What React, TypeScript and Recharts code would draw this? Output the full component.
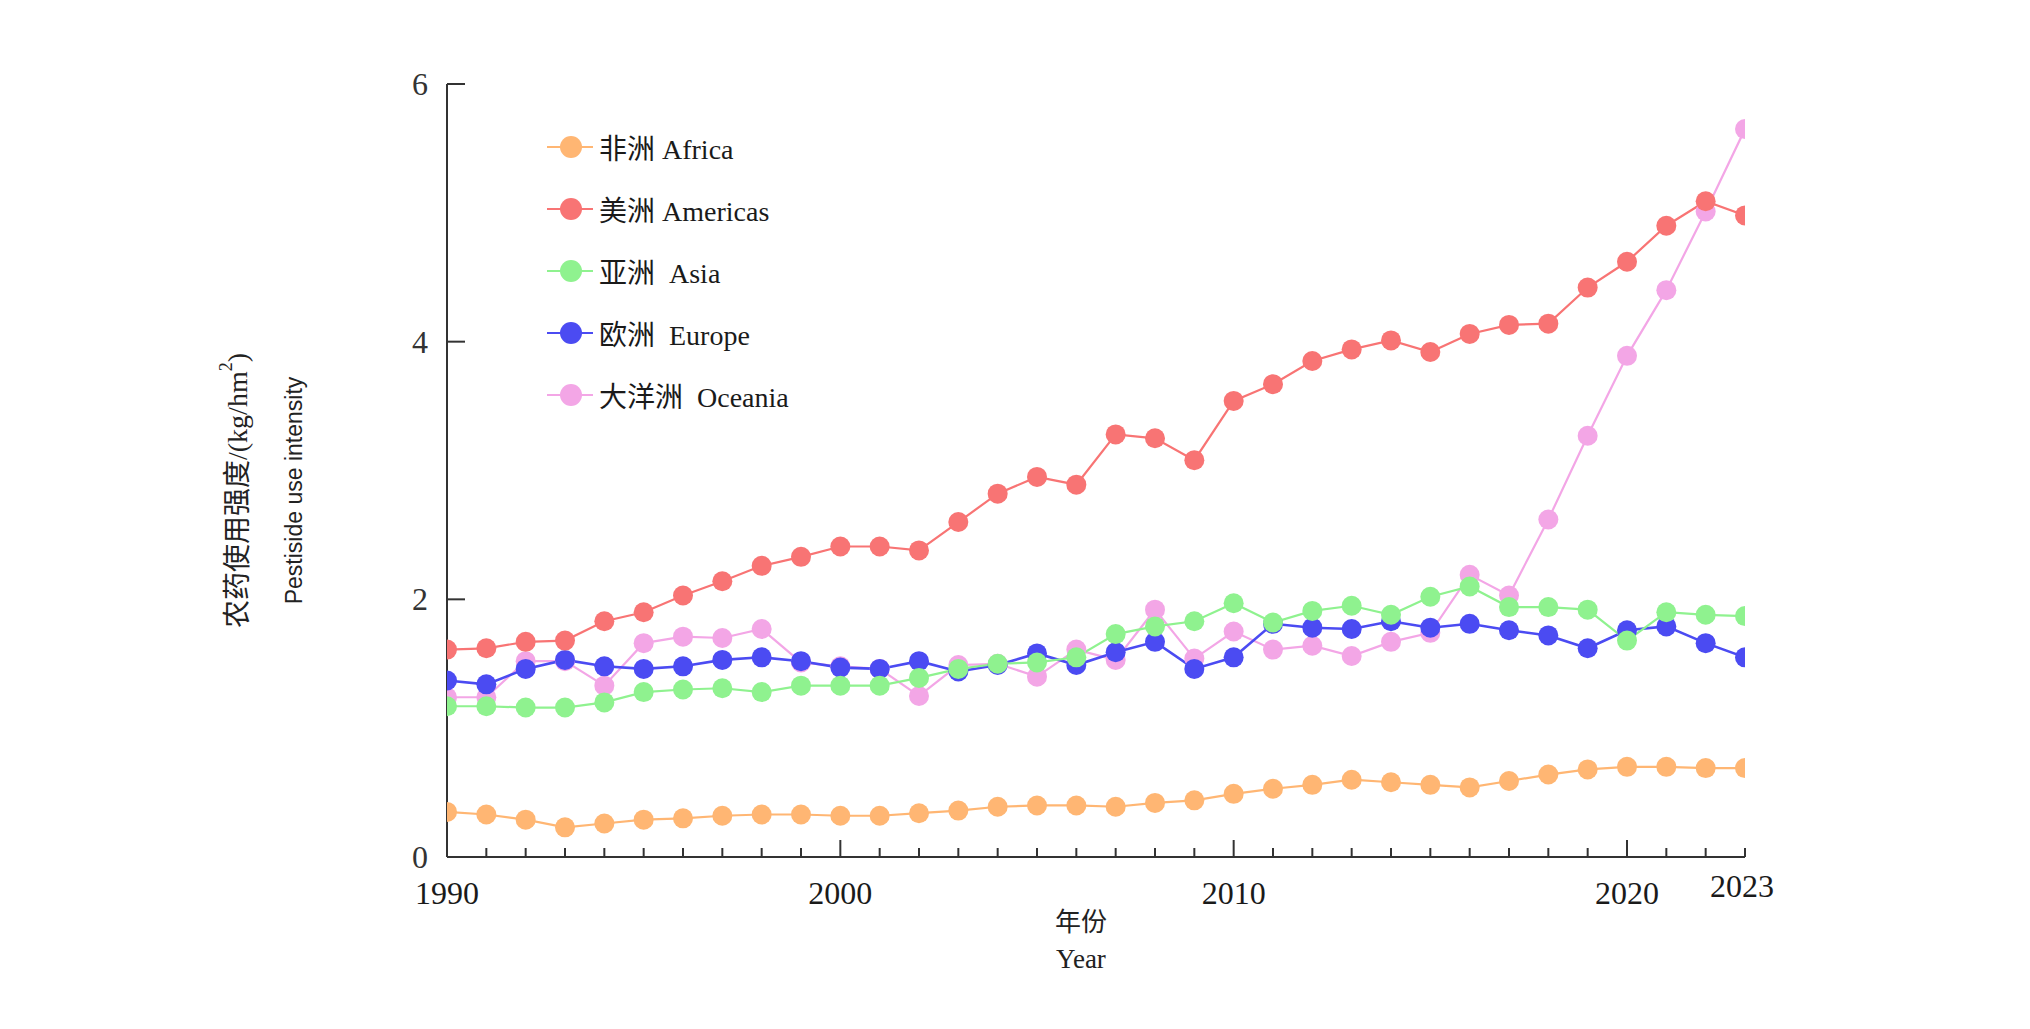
import React from 'react';
import { LineChart, Line, XAxis, YAxis, Legend } from 'recharts';

const years = [
  1990, 1991, 1992, 1993, 1994, 1995, 1996, 1997, 1998, 1999,
  2000, 2001, 2002, 2003, 2004, 2005, 2006, 2007, 2008, 2009,
  2010, 2011, 2012, 2013, 2014, 2015, 2016, 2017, 2018, 2019,
  2020, 2021, 2022, 2023,
];

const africa = [
  0.35, 0.33, 0.29, 0.23, 0.26, 0.29, 0.30, 0.32, 0.33, 0.33,
  0.32, 0.32, 0.34, 0.36, 0.39, 0.40, 0.40, 0.39, 0.42, 0.44,
  0.49, 0.53, 0.56, 0.60, 0.58, 0.56, 0.54, 0.59, 0.64, 0.68,
  0.70, 0.70, 0.69, 0.69,
];

const americas = [
  1.61, 1.62, 1.67, 1.68, 1.83, 1.90, 2.03, 2.14, 2.26, 2.33,
  2.41, 2.41, 2.38, 2.60, 2.82, 2.95, 2.89, 3.28, 3.25, 3.08,
  3.54, 3.67, 3.85, 3.94, 4.01, 3.92, 4.06, 4.13, 4.14, 4.42,
  4.62, 4.90, 5.09, 4.98,
];

const asia = [
  1.17, 1.17, 1.16, 1.16, 1.20, 1.28, 1.30, 1.31, 1.28, 1.33,
  1.33, 1.33, 1.39, 1.46, 1.50, 1.51, 1.55, 1.73, 1.79, 1.83,
  1.97, 1.82, 1.91, 1.95, 1.88, 2.02, 2.10, 1.94, 1.94, 1.92,
  1.68, 1.90, 1.88, 1.87,
];

const europe = [
  1.37, 1.34, 1.46, 1.53, 1.48, 1.46, 1.48, 1.53, 1.55, 1.52,
  1.47, 1.46, 1.52, 1.44, 1.49, 1.58, 1.49, 1.59, 1.67, 1.46,
  1.55, 1.81, 1.78, 1.77, 1.83, 1.78, 1.81, 1.76, 1.72, 1.62,
  1.76, 1.79, 1.66, 1.55,
];

const oceania = [
  1.24, 1.24, 1.52, 1.52, 1.33, 1.66, 1.71, 1.70, 1.77, 1.51,
  1.48, 1.46, 1.25, 1.49, 1.50, 1.40, 1.61, 1.53, 1.92, 1.54,
  1.75, 1.61, 1.64, 1.56, 1.67, 1.74, 2.19, 2.03, 2.62, 3.27,
  3.89, 4.40, 5.01, 5.65,
];

const yTicks = [0, 2, 4, 6];
const majorYears = [1990, 2000, 2010, 2020];
const labelYears = [1990, 2000, 2010, 2020, 2023];

const seriesLegend = [
  { key: 'africa', label: '非洲 Africa', color: '#FFB673' },
  { key: 'americas', label: '美洲 Americas', color: '#F87474' },
  { key: 'asia', label: '亚洲  Asia', color: '#8FF28F' },
  { key: 'europe', label: '欧洲  Europe', color: '#4B4BF2' },
  { key: 'oceania', label: '大洋洲  Oceania', color: '#F3A6E6' },
];

// drawing order (bottom to top)
const drawOrder = ['oceania', 'africa', 'europe', 'asia', 'americas'];

const data = years.map((year, i) => ({
  year,
  africa: africa[i],
  americas: americas[i],
  asia: asia[i],
  europe: europe[i],
  oceania: oceania[i],
}));

const FONT = "'Liberation Serif', 'Times New Roman', 'Noto Sans CJK SC', serif";
const SANS = "'Liberation Sans', Arial, sans-serif";
const AXIS_COLOR = '#333333';

const XTick = (props: any) => {
  const { x, y, payload } = props;
  const v = payload.value;
  const major = majorYears.includes(v);
  const len = major ? 17 : 9;
  const showLabel = labelYears.includes(v);
  const isLast = v === 2023;
  return (
    <g>
      <line x1={x} y1={y} x2={x} y2={y - len} stroke={AXIS_COLOR} strokeWidth={2} />
      {showLabel && (
        <text
          x={isLast ? x - 3 : x}
          y={isLast ? y + 29 : y + 36}
          textAnchor="middle"
          dominantBaseline="central"
          fontFamily={FONT}
          fontSize={32}
          fill="#1a1a1a"
        >
          {v}
        </text>
      )}
    </g>
  );
};

const YTick = (props: any) => {
  const { x, y, payload } = props;
  return (
    <g>
      <line x1={x} y1={y} x2={x + 18} y2={y} stroke={AXIS_COLOR} strokeWidth={2} />
      <text
        x={x - 19}
        y={y}
        textAnchor="end"
        dominantBaseline="central"
        fontFamily={FONT}
        fontSize={32}
        fill="#333"
      >
        {payload.value}
      </text>
    </g>
  );
};

const XLabel = (props: any) => {
  const { viewBox } = props;
  const cx = viewBox.x + viewBox.width / 2 - 15;
  const y0 = viewBox.y;
  return (
    <g>
      <text x={cx} y={y0 + 65} textAnchor="middle" dominantBaseline="central" fontFamily={FONT} fontSize={26} fill="#222">
        年份
      </text>
      <text x={cx} y={y0 + 102} textAnchor="middle" dominantBaseline="central" fontFamily={FONT} fontSize={27} fill="#222">
        Year
      </text>
    </g>
  );
};

const YLabel = (props: any) => {
  const { viewBox } = props;
  const axisX = viewBox.x + viewBox.width;
  const cy = viewBox.y + viewBox.height / 2 + 20;
  const x1 = axisX - 210;
  const x2 = axisX - 153;
  return (
    <g>
      <text
        x={x1}
        y={cy}
        transform={`rotate(-90, ${x1}, ${cy})`}
        textAnchor="middle"
        dominantBaseline="central"
        fontFamily={FONT}
        fontSize={28}
        fill="#222"
      >
        农药使用强度/(kg/hm
        <tspan dy={-11} fontSize={18}>2</tspan>
        <tspan dy={11}>)</tspan>
      </text>
      <text
        x={x2}
        y={cy}
        transform={`rotate(-90, ${x2}, ${cy})`}
        textAnchor="middle"
        dominantBaseline="central"
        fontFamily={SANS}
        fontSize={23}
        fill="#222"
      >
        Pestiside use intensity
      </text>
    </g>
  );
};

const LegendContent = () => (
  <div style={{ display: 'flex', flexDirection: 'column' }}>
    {seriesLegend.map((s) => (
      <div key={s.key} style={{ display: 'flex', alignItems: 'center', height: 62 }}>
        <svg width={46} height={26} style={{ display: 'block' }}>
          <line x1={0} y1={13} x2={46} y2={13} stroke={s.color} strokeWidth={2} />
          <circle cx={24} cy={13} r={11} fill={s.color} />
        </svg>
        <span
          style={{
            marginLeft: 6,
            fontFamily: FONT,
            fontSize: 28,
            color: '#1a1a1a',
            whiteSpace: 'pre',
            position: 'relative',
            top: 3,
            lineHeight: '30px',
          }}
        >
          {s.label}
        </span>
      </div>
    ))}
  </div>
);

export default function App() {
  const colorOf = (k: string) => seriesLegend.find((s) => s.key === k)!.color;
  return (
    <div style={{ position: 'absolute', left: 0, top: 0, width: 2030, height: 1029, background: '#fff' }}>
      <LineChart
        width={2030}
        height={1029}
        data={data}
        margin={{ top: 84, right: 285, bottom: 142, left: 387 }}
      >
        <XAxis
          dataKey="year"
          type="number"
          domain={[1990, 2023]}
          ticks={years}
          interval={0}
          height={30}
          tickSize={0}
          tickMargin={0}
          tickLine={false}
          axisLine={{ stroke: AXIS_COLOR, strokeWidth: 2 }}
          tick={<XTick />}
          label={<XLabel />}
          allowDataOverflow
        />
        <YAxis
          type="number"
          domain={[0, 6]}
          ticks={yTicks}
          interval={0}
          width={60}
          tickSize={0}
          tickMargin={0}
          tickLine={false}
          axisLine={{ stroke: AXIS_COLOR, strokeWidth: 2 }}
          tick={<YTick />}
          label={<YLabel />}
          allowDataOverflow
        />
        <Legend
          layout="vertical"
          align="center"
          verticalAlign="middle"
          wrapperStyle={{ left: 547, top: 116, width: 'auto' }}
          content={<LegendContent />}
        />
        {drawOrder.map((k) => (
          <Line
            key={k}
            dataKey={k}
            type="linear"
            stroke={colorOf(k)}
            strokeWidth={k === 'europe' ? 2.6 : 2.2}
            dot={{ r: 10, fill: colorOf(k), stroke: 'none', strokeWidth: 0 }}
            activeDot={false}
            isAnimationActive={false}
          />
        ))}
      </LineChart>
    </div>
  );
}
